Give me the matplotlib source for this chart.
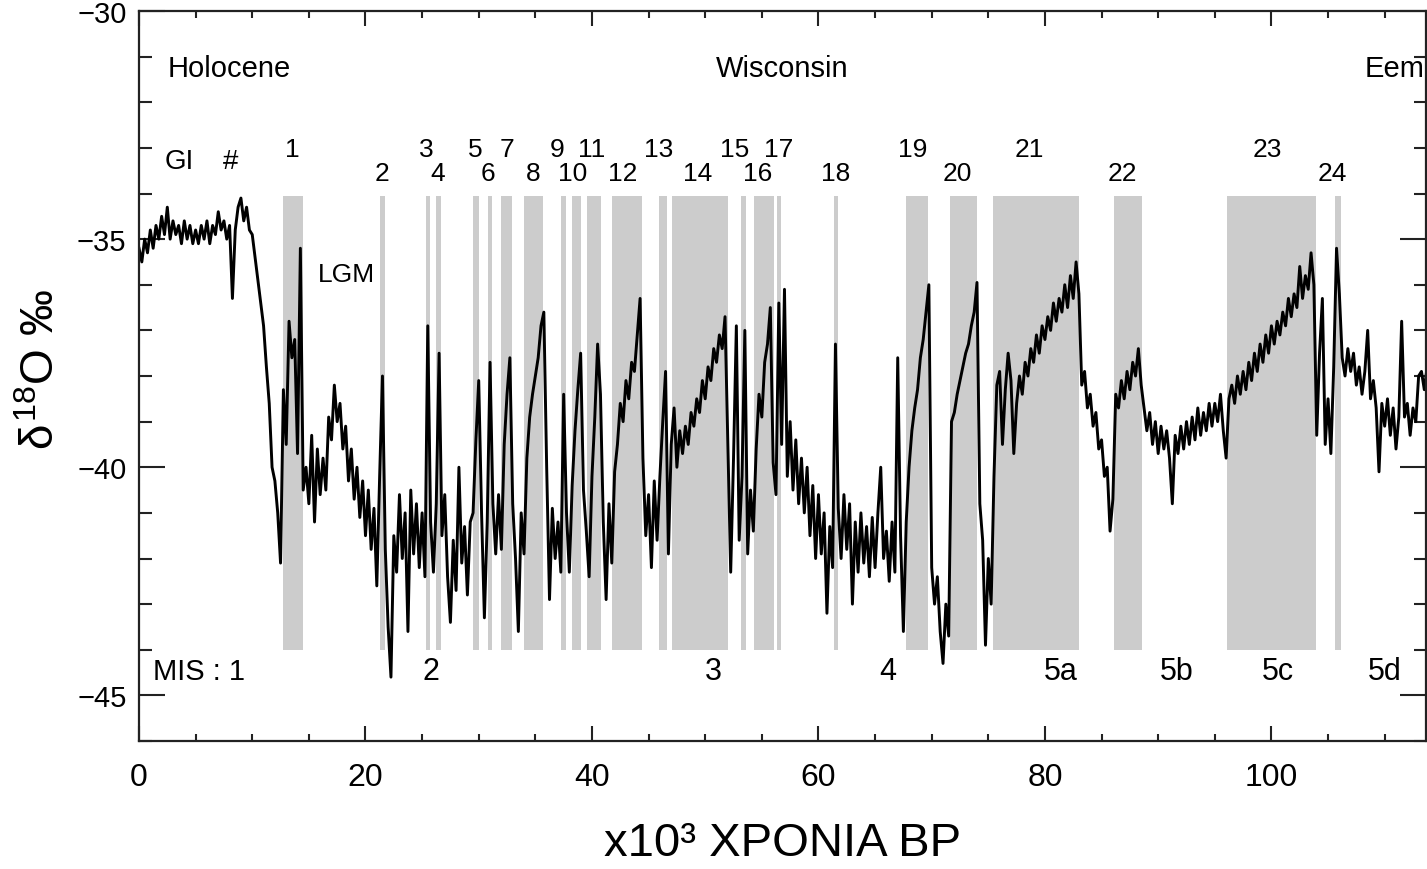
import matplotlib
matplotlib.use('Agg')
import matplotlib.pyplot as plt
import numpy as np
from matplotlib.ticker import MultipleLocator

plt.rcParams['font.family'] = ['Liberation Sans', 'DejaVu Sans']
plt.rcParams['mathtext.fontset'] = 'custom'
plt.rcParams['mathtext.rm'] = 'Liberation Sans'
plt.rcParams['mathtext.it'] = 'Liberation Sans'

# delta18O (permil), one value every 0.25 kyr, 0 .. 113.75 kyr BP
step = 0.25
d18o = [
    -35.2, -35.5, -35.0, -35.3, -34.8, -35.2, -34.7, -35.0, -34.5, -34.9, -34.3, -35.0, -34.6, -34.9, -34.7, -35.1, -34.6, -35.0, -34.7, -35.1,
    -34.8, -35.1, -34.7, -35.0, -34.6, -35.1, -34.7, -34.9, -34.4, -34.8, -34.6, -35.0, -34.7, -36.3, -34.8, -34.3, -34.1, -34.6, -34.3, -34.8,
    -34.9, -35.4, -35.9, -36.4, -36.9, -37.8, -38.6, -40.0, -40.3, -41.0, -42.1, -38.3, -39.5, -36.8, -37.6, -37.2, -39.7, -35.2, -40.5, -40.0,
    -40.8, -39.3, -41.2, -39.6, -40.6, -39.8, -40.5, -38.9, -39.4, -38.2, -39.0, -38.6, -39.6, -39.1, -40.3, -39.6, -40.7, -40.0, -41.1, -40.3,
    -41.5, -40.5, -41.8, -40.9, -42.6, -40.2, -38.0, -41.8, -43.5, -44.6, -41.5, -42.3, -40.6, -42.0, -41.0, -43.6, -40.5, -41.9, -40.8, -42.2,
    -41.0, -42.4, -36.9, -41.2, -42.3, -40.8, -37.5, -41.5, -40.6, -42.4, -43.4, -41.6, -42.7, -40.0, -42.1, -41.3, -42.8, -41.2, -41.0, -39.4,
    -38.1, -41.0, -43.3, -41.2, -37.7, -40.8, -41.9, -40.6, -41.8, -39.5, -38.4, -37.6, -40.8, -42.0, -43.6, -41.0, -41.9, -39.8, -38.9, -38.4,
    -38.0, -37.6, -36.9, -36.6, -40.0, -42.9, -40.9, -42.0, -41.2, -42.3, -38.4, -41.0, -42.3, -40.4, -39.2, -38.3, -37.5, -40.5, -41.4, -42.4,
    -40.2, -38.9, -37.3, -38.4, -41.2, -42.9, -40.8, -42.1, -40.1, -39.5, -38.6, -39.0, -38.1, -38.5, -37.7, -37.9, -37.1, -36.3, -39.8, -41.5,
    -40.6, -42.2, -40.3, -41.6, -40.2, -39.0, -37.9, -41.9, -39.5, -38.7, -40.0, -39.2, -39.7, -39.1, -39.5, -38.8, -39.1, -38.5, -38.8, -38.1,
    -38.5, -37.8, -38.1, -37.4, -37.7, -37.1, -37.4, -36.7, -39.5, -42.3, -39.8, -36.9, -41.6, -40.2, -37.0, -41.9, -40.5, -41.4, -39.6, -38.4,
    -38.9, -37.7, -37.3, -36.5, -39.9, -40.6, -36.4, -39.5, -36.1, -40.2, -39.0, -40.5, -39.4, -40.8, -39.8, -41.0, -40.0, -41.5, -40.4, -42.0,
    -40.6, -41.9, -41.0, -43.2, -41.3, -42.2, -37.3, -40.9, -42.0, -40.6, -41.8, -40.8, -43.0, -41.2, -42.3, -41.0, -42.1, -41.3, -42.4, -41.1,
    -42.2, -41.0, -40.0, -42.0, -41.4, -42.5, -41.2, -42.3, -37.6, -41.5, -43.6, -41.2, -40.0, -39.2, -38.7, -38.3, -37.6, -37.2, -36.6, -36.0,
    -42.2, -43.0, -42.4, -43.6, -44.3, -43.0, -43.7, -39.0, -38.8, -38.4, -38.1, -37.8, -37.5, -37.3, -36.9, -36.6, -35.95, -40.8, -41.6, -43.9,
    -42.0, -43.0, -40.2, -38.2, -37.9, -39.5, -38.3, -37.5, -38.1, -39.7, -38.6, -38.0, -38.4, -37.7, -38.0, -37.4, -37.7, -37.1, -37.5, -36.9,
    -37.2, -36.7, -37.0, -36.4, -36.8, -36.3, -36.6, -36.0, -36.5, -35.8, -36.3, -35.5, -36.2, -38.2, -37.9, -38.7, -38.4, -39.1, -38.8, -39.6,
    -39.4, -40.2, -40.0, -41.4, -40.7, -38.4, -38.7, -38.1, -38.5, -37.9, -38.3, -37.7, -38.0, -37.4, -38.2, -38.7, -39.2, -38.8, -39.5, -39.0,
    -39.7, -39.1, -39.6, -39.2, -39.8, -40.8, -39.3, -39.7, -39.1, -39.6, -39.0, -39.5, -38.9, -39.4, -38.7, -39.3, -38.8, -39.2, -38.6, -39.1,
    -38.6, -39.0, -38.4, -39.2, -39.8, -38.5, -38.2, -38.6, -38.0, -38.4, -37.9, -38.3, -37.7, -38.1, -37.5, -37.9, -37.3, -37.7, -37.1, -37.5,
    -36.9, -37.3, -36.8, -37.1, -36.6, -36.9, -36.3, -36.7, -36.2, -36.5, -35.6, -36.3, -35.8, -36.1, -35.3, -36.0, -39.3, -37.5, -36.3, -39.5,
    -38.5, -39.7, -37.8, -35.2, -36.2, -37.6, -38.0, -37.4, -37.9, -37.5, -38.2, -37.8, -38.4, -37.9, -37.0, -38.5, -38.1, -38.7, -40.1, -38.6,
    -39.1, -38.5, -39.3, -38.7, -39.6, -38.9, -36.8, -38.9, -38.6, -39.3, -38.7, -39.0, -38.0, -37.9, -38.3, -37.8,
]
age = np.arange(len(d18o)) * step

# Greenland interstadials (grey bands), kyr BP
gi_start = [12.72, 21.3, 25.3, 26.2, 29.5, 30.8, 32.0, 34.0, 37.3, 38.2, 39.6, 41.8,
            45.9, 47.05, 53.15, 54.3, 56.3, 61.4, 67.7, 71.6, 75.4, 86.1, 96.1, 105.6]
gi_end = [14.49, 21.7, 25.7, 26.65, 30.0, 31.2, 32.9, 35.7, 37.7, 39.0, 40.8, 44.4,
          46.6, 52.0, 53.6, 56.1, 56.7, 61.7, 69.7, 74.0, 83.0, 88.6, 103.9, 106.15]
gi_label_x = [13.5, 21.5, 25.35, 26.4, 29.7, 30.8, 32.5, 34.8, 36.9, 38.3, 40.0, 42.7,
              45.9, 49.3, 52.6, 54.6, 56.5, 61.5, 68.3, 72.3, 78.6, 86.8, 99.6, 105.4]

# marine isotope stages
mis_labels = ['2', '3', '4', '5a', '5b', '5c', '5d']
mis_x = [25.8, 50.7, 66.1, 81.4, 91.6, 100.6, 110.0]

fig = plt.figure(figsize=(14.27, 8.70), dpi=100)
ax = fig.add_axes([139 / 1427, 1 - 742 / 870, 1287 / 1427, 730 / 870])

for s, e in zip(gi_start, gi_end):
    ax.fill_between([s, e], -44.0, -34.05, color='#cccccc', lw=0, zorder=1)

ax.plot(age, d18o, color='black', lw=2.1, zorder=2)

ax.set_xlim(0, 113.65)
ax.set_ylim(-46, -30)
ax.xaxis.set_major_locator(MultipleLocator(20))
ax.xaxis.set_minor_locator(MultipleLocator(5))
ax.yaxis.set_major_locator(MultipleLocator(5))
ax.yaxis.set_minor_locator(MultipleLocator(1))
ax.tick_params(which='both', direction='in', top=True, right=True, width=1.5, color='#222222')
ax.tick_params(axis='x', which='major', length=11, labelsize=23, pad=15)
ax.tick_params(axis='x', which='minor', length=5)
ax.tick_params(axis='y', which='major', length=19, labelsize=21, pad=9)
ax.tick_params(axis='y', which='minor', length=9)
for sp in ax.spines.values():
    sp.set_linewidth(1.6)
    sp.set_color('#222222')

ax.set_ylabel(r'$\delta^{18}$O ‰', fontsize=33, rotation=90, ha='center', va='center')
ax.yaxis.set_label_coords(-0.0754, 0.51)
ax.set_xlabel('x10³ ΧΡΟΝΙΑ BP', fontsize=34, ha='center', va='center')
ax.xaxis.set_label_coords(0.5, -0.14)

# period names
ax.text(2.56, -31.25, 'Holocene', fontsize=21, ha='left', va='center')
ax.text(56.8, -31.25, 'Wisconsin', fontsize=21, ha='center', va='center')
ax.text(108.2, -31.25, 'Eem', fontsize=21, ha='left', va='center')

# interstadial numbers
ax.text(2.3, -33.29, 'GI', fontsize=20, ha='left', va='center')
ax.text(8.1, -33.29, '#', fontsize=20, ha='center', va='center')
for i, x in enumerate(gi_label_x):
    y = -33.03 if i % 2 == 0 else -33.55
    ax.text(x, y, str(i + 1), fontsize=19, ha='center', va='center')
ax.text(15.8, -35.77, 'LGM', fontsize=19, ha='left', va='center')

# MIS stages
ax.text(1.24, -44.47, 'MIS : 1', fontsize=21, ha='left', va='center')
for lab, x in zip(mis_labels, mis_x):
    ax.text(x, -44.47, lab, fontsize=22, ha='center', va='center')

fig.savefig('out.png', dpi=100)
